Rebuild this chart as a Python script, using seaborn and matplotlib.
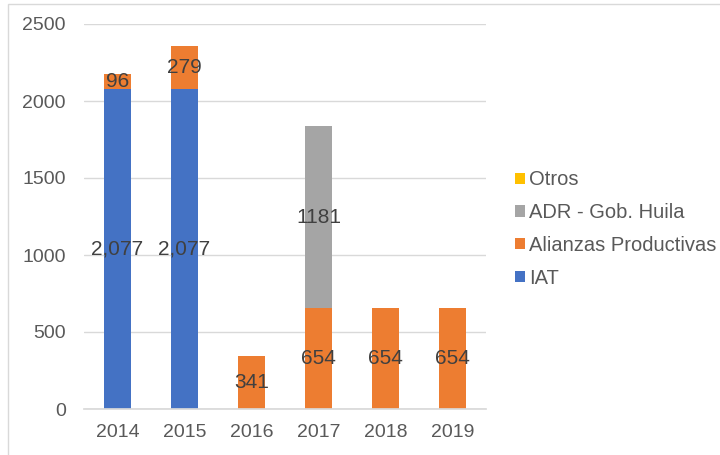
import numpy as np
import pandas as pd
import matplotlib.pyplot as plt
import seaborn as sns
from matplotlib.patches import Rectangle

years = ["2014", "2015", "2016", "2017", "2018", "2019"]
iat = [2077, 2077, 0, 0, 0, 0]
alianzas = [96, 279, 341, 654, 654, 654]
adr = [0, 0, 0, 1181, 0, 0]
otros = [0, 0, 0, 0, 0, 0]

series = [
    ("IAT", iat, "#4472C4"),
    ("Alianzas Productivas", alianzas, "#ED7D31"),
    ("ADR - Gob. Huila", adr, "#A5A5A5"),
    ("Otros", otros, "#FFC000"),
]

sns.set_theme(style="white")
plt.rcParams["font.family"] = ["Liberation Sans", "DejaVu Sans"]

fig = plt.figure(figsize=(7.2, 4.55), dpi=100)
ax = fig.add_axes([84 / 720, 46 / 455, 402 / 720, 385 / 455])

bottom = np.zeros(len(years))
for name, vals, color in series:
    df = pd.DataFrame({"year": years, "value": vals})
    sns.barplot(data=df, x="year", y="value", color=color, width=0.4,
                bottom=bottom.copy(), ax=ax, label=name, saturation=1,
                linewidth=0, err_kws={"linewidth": 0})
    cont = ax.containers[-1]
    if name == "IAT":
        labels = ["{:,}".format(v) if v else "" for v in vals]
    else:
        labels = [str(v) if v else "" for v in vals]
    ax.bar_label(cont, labels=labels, label_type="center", fontsize=15,
                 color="#404040")
    bottom += np.array(vals)

ax.set_ylim(0, 2500)
ax.set_xlim(-0.5, 5.5)
ax.set_yticks([0, 500, 1000, 1500, 2000, 2500])
ax.yaxis.grid(True, color="#d9d9d9", linewidth=1)
ax.set_axisbelow(True)
for s in ["left", "top", "right"]:
    ax.spines[s].set_visible(False)
ax.spines["bottom"].set_color("#d9d9d9")
ax.tick_params(axis="both", length=0, labelsize=14, colors="#595959")
ax.tick_params(axis="x", pad=11)
ax.tick_params(axis="y", pad=13)
ax.set_xlabel("")
ax.set_ylabel("")

handles, lbls = ax.get_legend_handles_labels()
leg = ax.legend(handles[::-1], lbls[::-1], loc="center left",
                bbox_to_anchor=(497 / 720, 226 / 455), bbox_transform=fig.transFigure,
                frameon=False, fontsize=14.5, handlelength=0.5, handleheight=0.5,
                handletextpad=0.2, labelspacing=0.68, labelcolor="#595959")

fig.patches.append(Rectangle((8 / 720, -0.1), 1.1, 1.1 - 4 / 455,
                             transform=fig.transFigure, fill=False,
                             edgecolor="#d9d9d9", linewidth=1))

fig.savefig("out.png", dpi=100)
